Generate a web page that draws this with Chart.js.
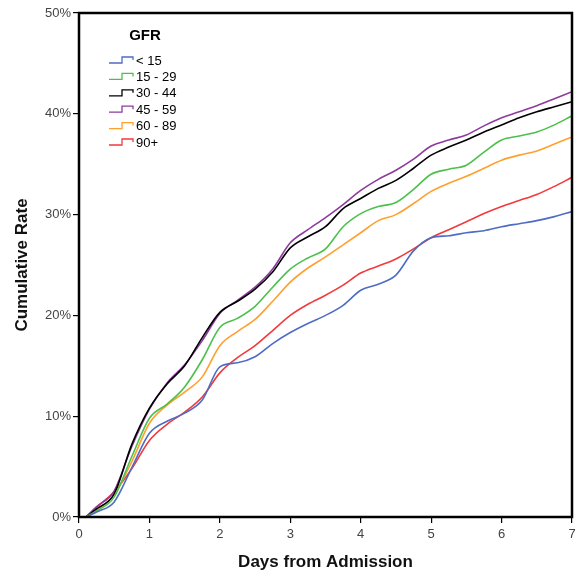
<!DOCTYPE html>
<html>
<head>
<meta charset="utf-8">
<script src="https://cdn.jsdelivr.net/npm/chart.js@4.4.8/dist/chart.umd.min.js"></script>
<style>
  html, body { margin: 0; padding: 0; background: #fff; }
  #wrap { width: 587px; height: 576px; position: relative; }
</style>
</head>
<body>
<div id="wrap"><canvas id="myChart"></canvas></div>
<script>
// days from admission
const days = [0.1, 0.25, 0.5, 0.75, 1, 1.25, 1.5, 1.75, 2, 2.25, 2.5, 2.75, 3, 3.25, 3.5, 3.75,
  4, 4.25, 4.5, 4.75, 5, 5.25, 5.5, 5.75, 6, 6.25, 6.5, 6.75, 7];

// cumulative rate (%) per GFR group
const gfrLt15 = [0, 0.5, 1.5, 4.9, 8.3, 9.5, 10.3, 11.6, 14.9, 15.3, 15.9, 17.2, 18.3, 19.2, 20.0, 21.0,
  22.5, 23.1, 24.0, 26.4, 27.7, 27.9, 28.2, 28.4, 28.8, 29.1, 29.4, 29.8, 30.3];
const gfr15to29 = [0, 0.6, 2.0, 6.0, 9.8, 11.2, 12.9, 15.6, 18.8, 19.7, 20.9, 22.8, 24.6, 25.7, 26.6, 28.8,
  30.1, 30.8, 31.2, 32.5, 34.0, 34.5, 34.9, 36.2, 37.4, 37.8, 38.2, 38.9, 39.8];
const gfr30to44 = [0, 0.8, 2.3, 7.2, 10.8, 13.2, 15.0, 17.8, 20.3, 21.4, 22.6, 24.3, 26.7, 27.8, 28.8, 30.6,
  31.6, 32.6, 33.4, 34.6, 35.9, 36.7, 37.4, 38.2, 38.9, 39.6, 40.2, 40.7, 41.2];
const gfr45to59 = [0, 1.0, 2.6, 7.0, 10.7, 13.3, 15.1, 17.5, 20.2, 21.5, 22.8, 24.6, 27.2, 28.5, 29.7, 31.0,
  32.4, 33.5, 34.4, 35.5, 36.8, 37.4, 37.9, 38.8, 39.6, 40.2, 40.8, 41.5, 42.2];
const gfr60to89 = [0, 0.7, 2.2, 5.5, 9.3, 11.1, 12.4, 13.9, 17.0, 18.4, 19.6, 21.4, 23.3, 24.7, 25.8, 27.0,
  28.2, 29.4, 30.0, 31.1, 32.3, 33.1, 33.8, 34.6, 35.4, 35.9, 36.3, 37.0, 37.7];
const gfr90plus = [0, 1.0, 2.5, 4.8, 7.6, 9.2, 10.4, 11.9, 14.3, 15.8, 17.0, 18.5, 20.0, 21.1, 22.0, 23.0,
  24.2, 24.9, 25.6, 26.6, 27.7, 28.5, 29.3, 30.1, 30.8, 31.4, 32.0, 32.8, 33.7];

const groupNames = ['< 15', '15 - 29', '30 - 44', '45 - 59', '60 - 89', '90+'];
const groupValues = [gfrLt15, gfr15to29, gfr30to44, gfr45to59, gfr60to89, gfr90plus];
const groupColors = ['#4f6cc4', '#4cc04c', '#000000', '#8e3a9e', '#ffa02e', '#f03a3c'];

const yTicks = [0, 10, 20, 30, 40, 50];
const xTicks = [0, 1, 2, 3, 4, 5, 6, 7];

const FONT = "'Liberation Sans', Arial, sans-serif";

// black frame round the plot
const framePlugin = {
  id: 'frame',
  afterDatasetsDraw(chart) {
    const a = chart.chartArea;
    const c = chart.ctx;
    c.save();
    c.strokeStyle = '#000';
    c.lineWidth = 2.5;
    c.strokeRect(a.left, a.top, a.right - a.left, a.bottom - a.top);
    c.restore();
  }
};

// legend inside the plot, step shaped symbols
const legendPlugin = {
  id: 'gfrLegend',
  afterDraw(chart) {
    const c = chart.ctx;
    c.save();
    c.fillStyle = '#000';
    c.font = 'bold 15px ' + FONT;
    c.textAlign = 'center';
    c.textBaseline = 'middle';
    c.fillText('GFR', 145, 36);
    c.font = '13px ' + FONT;
    c.textAlign = 'left';
    for (let i = 0; i < groupNames.length; i++) {
      const y = 60 + i * 16.4;
      c.strokeStyle = groupColors[i];
      c.lineWidth = 1.3;
      c.beginPath();
      c.moveTo(109, y + 3);
      c.lineTo(122, y + 3);
      c.lineTo(122, y - 3);
      c.lineTo(133, y - 3);
      c.lineTo(133, y);
      c.stroke();
      c.fillStyle = '#000';
      c.fillText(groupNames[i], 136, y + 1);
    }
    c.restore();
  }
};

const ctx = document.getElementById('myChart');
const chart = new Chart(ctx, {
  type: 'line',
  data: {
    datasets: groupNames.map((name, i) => ({
      label: name,
      data: days.map((d, j) => ({ x: d, y: groupValues[i][j] })),
      borderColor: groupColors[i],
      backgroundColor: groupColors[i],
      borderWidth: 1.6,
      pointRadius: 0,
      cubicInterpolationMode: 'monotone',
      fill: false
    }))
  },
  options: {
    responsive: true,
    maintainAspectRatio: false,
    animation: false,
    layout: { padding: { left: 0, right: 15, top: 13, bottom: 0 } },
    plugins: {
      legend: { display: false },
      tooltip: { enabled: false }
    },
    scales: {
      x: {
        type: 'linear',
        min: 0,
        max: 7,
        afterFit(scale) { scale.height = 59; },
        afterBuildTicks(scale) { scale.ticks = xTicks.map(v => ({ value: v })); },
        border: { display: false },
        grid: { drawOnChartArea: false, drawTicks: true, tickLength: 6, color: '#000', lineWidth: 1.2 },
        ticks: { color: '#444', font: { family: FONT, size: 13 }, padding: 4, maxRotation: 0 },
        title: {
          display: true,
          text: 'Days from Admission',
          color: '#111',
          font: { family: FONT, size: 17, weight: 'bold' },
          padding: { top: 0, bottom: 3 }
        }
      },
      y: {
        min: 0,
        max: 50,
        afterFit(scale) { scale.width = 79; },
        afterBuildTicks(scale) { scale.ticks = yTicks.map(v => ({ value: v })); },
        border: { display: false },
        grid: { drawOnChartArea: false, drawTicks: true, tickLength: 6, color: '#000', lineWidth: 1.2 },
        ticks: {
          color: '#444',
          font: { family: FONT, size: 13 },
          padding: 2,
          callback: v => v + '%'
        },
        title: {
          display: true,
          text: 'Cumulative Rate',
          color: '#111',
          font: { family: FONT, size: 17, weight: 'bold' },
          padding: { top: 12, bottom: 0 }
        }
      }
    }
  },
  plugins: [framePlugin, legendPlugin]
});
</script>
</body>
</html>
